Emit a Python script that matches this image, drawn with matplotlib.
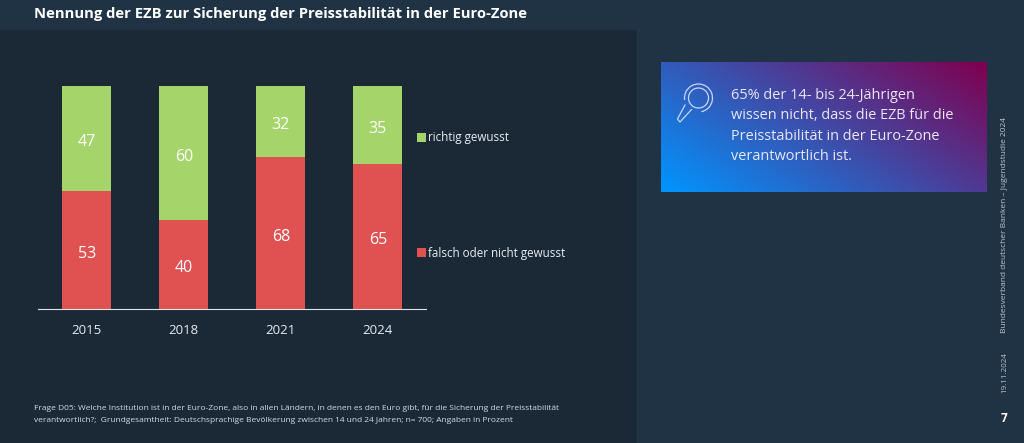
"""Nennung der EZB zur Sicherung der Preisstabilitaet - Folie 7, Jugendstudie 2024"""
import numpy as np
import matplotlib
matplotlib.use('Agg')
import matplotlib.pyplot as plt
from matplotlib.colors import LinearSegmentedColormap
from matplotlib.patches import Circle, Rectangle, Arc

plt.rcParams['font.family'] = ['Open Sans', 'DejaVu Sans']

years = ['2015', '2018', '2021', '2024']
falsch = [53, 40, 68, 65]
richtig = [47, 60, 32, 35]

BG = '#203345'
PANEL = '#1b2937'
GREEN = '#a5d46a'
RED = '#e05252'
W, H = 1024, 443

fig = plt.figure(figsize=(W / 100, H / 100), dpi=100, facecolor=BG)

# full figure overlay in pixel coordinates
bg = fig.add_axes([0, 0, 1, 1])
bg.set_xlim(0, W)
bg.set_ylim(H, 0)
bg.axis('off')
bg.add_patch(Rectangle((0, 30), 637, 413, facecolor=PANEL, edgecolor='none'))

# stacked bars
ax = fig.add_axes([38 / W, 1 - 309 / H, 388 / W, 223 / H])
ax.patch.set_alpha(0)
x = np.arange(len(years))
ax.bar(x, falsch, width=0.505, color=RED)
ax.bar(x, richtig, width=0.505, bottom=falsch, color=GREEN)
for i in x:
    # labels sit a few pixels below the segment centre in the original
    ax.annotate(str(falsch[i]), (i, falsch[i] / 2), xytext=(0.2, -2.6), textcoords='offset points',
                ha='center', va='center', color='white', fontsize=11.5)
    ax.annotate(str(richtig[i]), (i, falsch[i] + richtig[i] / 2), xytext=(0.2, -2.6),
                textcoords='offset points', ha='center', va='center', color='white', fontsize=11.5)
ax.set_xlim(-0.5, 3.5)
ax.set_ylim(0, 100)
ax.set_xticks(x, years)
ax.tick_params(axis='x', length=0, pad=11, colors='#e8edf1', labelsize=9.5)
ax.set_yticks([])
for s in ['top', 'left', 'right']:
    ax.spines[s].set_visible(False)
ax.spines['bottom'].set_color('#dfe5ea')
ax.spines['bottom'].set_linewidth(0.8)

# legend
bg.add_patch(Rectangle((417, 133), 8.5, 8.5, facecolor=GREEN, edgecolor='none'))
bg.add_patch(Rectangle((417, 248), 8.5, 8.5, facecolor=RED, edgecolor='none'))
bg.text(428, 137, 'richtig gewusst', color='#e8edf1', fontsize=8.4, va='center')
bg.text(428, 253, 'falsch oder nicht gewusst', color='#e8edf1', fontsize=8.4, va='center')

# title
bg.text(34, 13.5, 'Nennung der EZB zur Sicherung der Preisstabilität in der Euro-Zone',
        color='white', fontsize=10.6, fontweight='bold', va='center')

# gradient box
cmap = LinearSegmentedColormap.from_list('box', ['#0095ff', '#80004f'])
gx, gy = np.meshgrid(np.linspace(0, 1, 200), np.linspace(0, 1, 100))
bg.imshow(0.62 * gx + 0.38 * (1 - gy), cmap=cmap, extent=(661, 987, 192, 62), origin='upper',
          aspect='auto', vmin=0, vmax=1, zorder=1)
bg.set_xlim(0, W)
bg.set_ylim(H, 0)

# magnifier icon
ic = '#c9d6f2'
bg.add_patch(Arc((698.5, 98), 28, 28, theta1=172, theta2=78, edgecolor=ic, lw=0.9, zorder=3))
bg.add_patch(Circle((698.5, 98), 10, fill=False, edgecolor=ic, lw=0.9, zorder=3))
bg.plot([685, 677.5, 680, 691.5], [105, 119, 122, 109.5], color=ic, lw=0.9, zorder=3)

# callout text
box_lines = ['65% der 14- bis 24-Jährigen', 'wissen nicht, dass die EZB für die',
             'Preisstabilität in der Euro-Zone', 'verantwortlich ist.']
for line, y in zip(box_lines, [95, 115.5, 136, 156.5]):
    bg.text(731, y, line, color='#ece6f6', fontsize=10.45, va='center', zorder=3)

# footnote
note = ['Frage D05: Welche Institution ist in der Euro-Zone, also in allen Ländern, '
        'in denen es den Euro gibt, für die Sicherung der Preisstabilität',
        'verantwortlich?;  Grundgesamtheit: Deutschsprachige Bevölkerung zwischen 14 und '
        '24 Jahren; n= 700; Angaben in Prozent']
for line, y in zip(note, [408, 420]):
    bg.text(34, y, line, color='#d5dbe0', fontsize=6.0, va='center')

# side texts
bg.text(1005, 333, 'Bundesverband deutscher Banken – Jugendstudie 2024', color='#b9c6d1',
        fontsize=6.0, rotation=90, ha='center', va='bottom')
bg.text(1005, 393, '19.11.2024', color='#b9c6d1', fontsize=5.8, rotation=90,
        ha='center', va='bottom')
bg.text(1004, 418, '7', color='white', fontsize=8.5, fontweight='bold', ha='center', va='center')

fig.savefig('out.png', dpi=100, facecolor=BG)
